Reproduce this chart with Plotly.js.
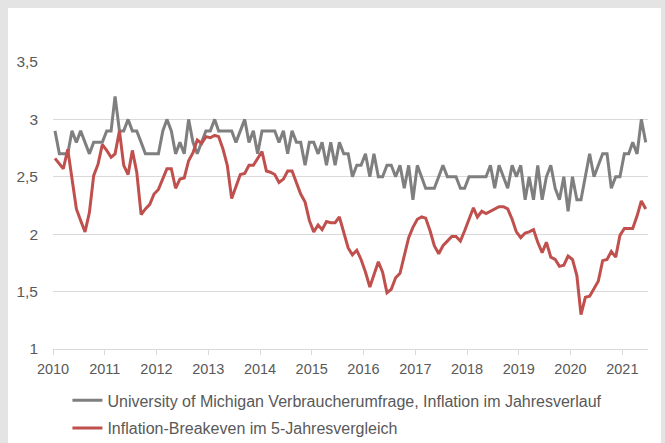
<!DOCTYPE html>
<html>
<head>
<meta charset="utf-8">
<script src="https://cdn.plot.ly/plotly-3.0.1.min.js"></script>
<style>
html, body { margin: 0; padding: 0; background: #e4e4e4; width: 665px; height: 443px; overflow: hidden; }
#chart { position: absolute; left: 8px; top: 8px; width: 653px; height: 435px; background: #ffffff; }
</style>
</head>
<body>
<div id="chart"></div>
<script>
// Monthly observations, January 2010 through June 2021
const startYear = 2010;
const seriesNames = [
  "University of Michigan Verbraucherumfrage, Inflation im Jahresverlauf",
  "Inflation-Breakeven im 5-Jahresvergleich"
];

const michigan = [
  2.9, 2.7, 2.7, 2.7, 2.9, 2.8, 2.9, 2.8, 2.7, 2.8, 2.8, 2.8,
  2.9, 2.9, 3.2, 2.9, 2.9, 3.0, 2.9, 2.9, 2.8, 2.7, 2.7, 2.7,
  2.7, 2.9, 3.0, 2.9, 2.7, 2.8, 2.7, 3.0, 2.8, 2.7, 2.8, 2.9,
  2.9, 3.0, 2.9, 2.9, 2.9, 2.9, 2.8, 2.9, 3.0, 2.8, 2.9, 2.7,
  2.9, 2.9, 2.9, 2.9, 2.8, 2.9, 2.7, 2.9, 2.8, 2.8, 2.6, 2.8,
  2.8, 2.7, 2.8, 2.6, 2.8, 2.6, 2.8, 2.7, 2.7, 2.5, 2.6, 2.6,
  2.7, 2.5, 2.7, 2.5, 2.5, 2.6, 2.6, 2.5, 2.6, 2.4, 2.6, 2.3,
  2.6, 2.5, 2.4, 2.4, 2.4, 2.5, 2.6, 2.5, 2.5, 2.5, 2.4, 2.4,
  2.5, 2.5, 2.5, 2.5, 2.5, 2.6, 2.4, 2.6, 2.5, 2.4, 2.6, 2.5,
  2.6, 2.3, 2.5, 2.3, 2.6, 2.3, 2.5, 2.6, 2.4, 2.3, 2.5, 2.2,
  2.5, 2.3, 2.3, 2.5, 2.7, 2.5, 2.6, 2.7, 2.7, 2.4, 2.5, 2.5,
  2.7, 2.7, 2.8, 2.7, 3.0, 2.8
];

const breakeven = [
  2.66, 2.61, 2.57, 2.74, 2.48, 2.22, 2.12, 2.02, 2.19, 2.51, 2.61, 2.78,
  2.73, 2.67, 2.70, 2.90, 2.60, 2.52, 2.73, 2.54, 2.17, 2.22, 2.26, 2.35,
  2.39, 2.49, 2.57, 2.57, 2.40, 2.48, 2.49, 2.64, 2.71, 2.82, 2.79, 2.85,
  2.84, 2.86, 2.85, 2.74, 2.60, 2.31, 2.42, 2.52, 2.53, 2.60, 2.60, 2.66,
  2.72, 2.55, 2.54, 2.52, 2.45, 2.48, 2.55, 2.55, 2.45, 2.35, 2.28, 2.12,
  2.02, 2.08, 2.04, 2.11, 2.10, 2.10, 2.15, 2.01, 1.88, 1.82, 1.86, 1.78,
  1.67, 1.54, 1.65, 1.76, 1.67, 1.49, 1.52, 1.62, 1.66, 1.81, 1.97, 2.06,
  2.13, 2.15, 2.14, 2.03, 1.90, 1.83, 1.90, 1.94, 1.98, 1.98, 1.94, 2.03,
  2.13, 2.23, 2.15, 2.20, 2.18, 2.20, 2.22, 2.24, 2.24, 2.22, 2.13, 2.02,
  1.97, 2.01, 2.02, 2.04, 1.93, 1.84, 1.93, 1.80, 1.78, 1.72, 1.73, 1.81,
  1.78, 1.64, 1.30, 1.45, 1.46, 1.52, 1.59, 1.77, 1.78, 1.85, 1.80, 1.99,
  2.05, 2.05, 2.05, 2.16, 2.29, 2.22
];

const yTickVals = [1, 1.5, 2, 2.5, 3, 3.5];

// month dates (mid-month) for each observation
const months = michigan.map(function (_, i) {
  const y = startYear + Math.floor(i / 12);
  const m = (i % 12) + 1;
  return y + "-" + (m < 10 ? "0" + m : m) + "-15";
});

const FONT = '"Liberation Sans", Arial, sans-serif';

const traces = [
  {
    x: months, y: michigan, name: seriesNames[0], type: "scatter", mode: "lines",
    line: { color: "#7f7f7f", width: 3 }, legendgroup: "a"
  },
  {
    x: months, y: breakeven, name: seriesNames[1], type: "scatter", mode: "lines",
    line: { color: "#c0504d", width: 3 }, legendgroup: "b"
  }
];

const layout = {
  width: 653, height: 435,
  margin: { l: 45, r: 13, t: 53.5, b: 94, pad: 0, autoexpand: false },
  paper_bgcolor: "#ffffff", plot_bgcolor: "#ffffff",
  separators: ", ",
  font: { family: FONT, size: 14.5, color: "#595959" },
  showlegend: true,
  legend: {
    orientation: "v",
    xref: "container", yref: "container",
    x: 0.091, xanchor: "left", y: 0.137, yanchor: "top",
    font: { family: FONT, size: 16, color: "#595959" },
    tracegroupgap: 4, bgcolor: "rgba(0,0,0,0)", itemwidth: 30
  },
  xaxis: {
    type: "date", range: ["2010-01-01", "2021-07-01"],
    tickmode: "linear", tick0: "2010-01-01", dtick: "M12", tickformat: "%Y",
    showgrid: false, zeroline: false,
    showline: true, linecolor: "#d9d9d9", linewidth: 1,
    ticks: "outside", ticklen: 5, tickcolor: "#d9d9d9", tickwidth: 1,
    ticklabelstandoff: 2,
    tickfont: { family: FONT, size: 14.5, color: "#595959" }
  },
  yaxis: {
    range: [1, 3.5], tickmode: "array", tickvals: yTickVals,
    showgrid: true, gridcolor: "#d9d9d9", gridwidth: 1,
    zeroline: false, showline: false, ticks: "",
    ticklabelstandoff: 14,
    tickfont: { family: FONT, size: 15.5, color: "#595959" }
  }
};

Plotly.newPlot("chart", traces, layout, { displayModeBar: false, staticPlot: true });
</script>
</body>
</html>
